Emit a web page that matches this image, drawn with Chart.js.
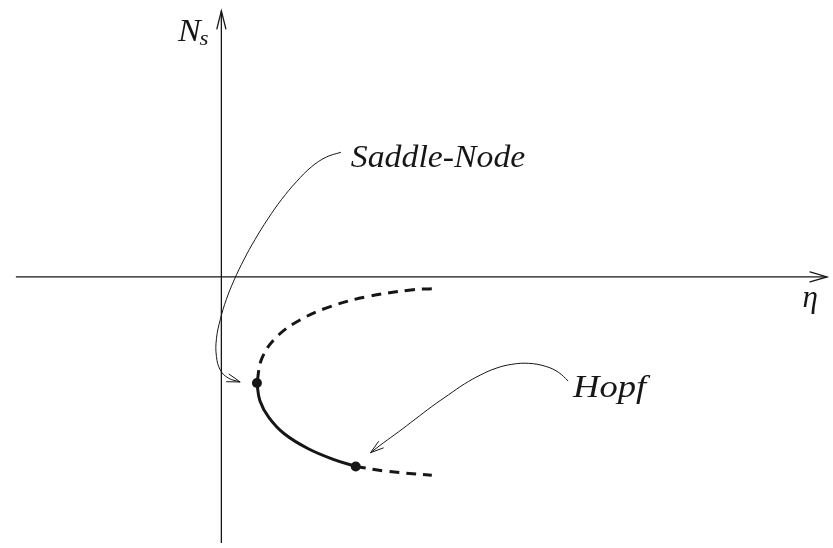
<!DOCTYPE html>
<html>
<head>
<meta charset="utf-8">
<script src="https://cdn.jsdelivr.net/npm/chart.js@4.4.1/dist/chart.umd.min.js"></script>
<style>
  html, body { margin: 0; padding: 0; background: #fff; }
  #wrap { width: 833px; height: 548px; }
</style>
</head>
<body>
<div id="wrap"><canvas id="chart" width="833" height="548"></canvas></div>
<script>
// eta / N_s coordinates (origin where the axes cross)
const upperBranchEta = [2.13, 1.94, 1.48, 1.11, 0.81, 0.56, 0.41, 0.36];
const upperBranchN = [-0.12, -0.13, -0.20, -0.30, -0.43, -0.61, -0.83, -1.08];

const stableBranchEta = [0.36, 0.39, 0.48, 0.64, 0.88, 1.14, 1.36];
const stableBranchN = [-1.08, -1.26, -1.43, -1.60, -1.75, -1.86, -1.93];

const lowerBranchEta = [1.36, 1.68, 2.13];
const lowerBranchN = [-1.93, -1.98, -2.02];

// saddle-node and hopf points
const bifEta = [0.36, 1.36];
const bifN = [-1.08, -1.93];

// axis extents
const etaAxis = [-2.08, 6.13];
const nAxis = [-2.75, 2.71];

// annotation leader curves
const saddleArrowEta = [1.21, 1.06, 0.91, 0.76, 0.61, 0.47, 0.34, 0.23, 0.13, 0.05, -0.01, -0.05, -0.05, -0.01, 0.07, 0.19];
const saddleArrowN = [1.27, 1.22, 1.12, 0.97, 0.79, 0.59, 0.38, 0.18, -0.03, -0.23, -0.43, -0.63, -0.81, -0.95, -1.03, -1.07];
const hopfArrowEta = [3.51, 3.41, 3.28, 3.11, 2.94, 2.78, 2.62, 2.46, 2.30, 2.13, 1.96, 1.79, 1.64, 1.51];
const hopfArrowN = [-1.06, -0.97, -0.91, -0.88, -0.89, -0.93, -1.00, -1.09, -1.20, -1.32, -1.45, -1.58, -1.69, -1.79];

// labels: [text, eta, N, stretch]
const labels = [
  ["Saddle-Node", 1.31, 1.12, 1.09],
  ["Hopf", 3.56, -1.22, 1.18],
];
const etaLabel = ["η", 5.96, -0.31];
const nLabel = ["N", -0.44, 2.40];

const serif = "'Liberation Serif', 'Times New Roman', serif";
const ink = "#161616";

function pts(xs, ys) {
  let out = [];
  for (let i = 0; i < xs.length; ++i) {
    out.push({ x: xs[i], y: ys[i] });
  }
  return out;
}

function arrowHead(ctx, x0, y0, x1, y1, len, half, width) {
  let a = Math.atan2(y1 - y0, x1 - x0);
  let c = Math.cos(a), s = Math.sin(a);
  ctx.save();
  ctx.strokeStyle = ink;
  ctx.lineWidth = width;
  ctx.lineCap = "round";
  ctx.beginPath();
  ctx.moveTo(x1 - len * c - half * s, y1 - len * s + half * c);
  ctx.lineTo(x1, y1);
  ctx.lineTo(x1 - len * c + half * s, y1 - len * s - half * c);
  ctx.stroke();
  ctx.restore();
}

const decorations = {
  id: "decorations",
  afterDatasetsDraw(chart) {
    const ctx = chart.ctx;
    const xs = chart.scales.x, ys = chart.scales.y;
    // open arrowheads at the end of flagged datasets
    chart.data.datasets.forEach(function (ds, i) {
      if (!ds.arrow) return;
      const meta = chart.getDatasetMeta(i).data;
      const p = meta[meta.length - 1], q = meta[meta.length - 2];
      let fromX = q.x, fromY = q.y;
      if (p.cp1x !== undefined && Math.hypot(p.x - p.cp1x, p.y - p.cp1y) > 1) {
        fromX = p.cp1x; fromY = p.cp1y;
      }
      arrowHead(ctx, fromX, fromY, p.x, p.y, ds.arrow[0], ds.arrow[1], ds.borderWidth);
    });

    ctx.save();
    // first text pass falls back to another face, so do an invisible one first
    ctx.globalAlpha = 0;
    ctx.font = "italic 31px " + serif;
    ctx.fillText("Saddle-Node Hopf N", 0, 40);
    ctx.font = "italic 21px " + serif;
    ctx.fillText("s", 0, 40);
    ctx.globalAlpha = 1;

    ctx.fillStyle = ink;
    ctx.textBaseline = "alphabetic";
    // eta
    ctx.font = "italic 31px " + serif;
    ctx.textAlign = "center";
    ctx.fillText(etaLabel[0], xs.getPixelForValue(etaLabel[1]), ys.getPixelForValue(etaLabel[2]));
    ctx.textAlign = "left";
    // N_s
    const nx = xs.getPixelForValue(nLabel[1]), ny = ys.getPixelForValue(nLabel[2]);
    ctx.save();
    ctx.translate(nx, ny);
    ctx.scale(1.1, 1);
    ctx.font = "italic 31px " + serif;
    ctx.fillText(nLabel[0], 0, 0);
    const w = ctx.measureText(nLabel[0]).width;
    ctx.font = "italic 21px " + serif;
    ctx.fillText("s", w - 1, 4);
    ctx.restore();
    // annotations
    labels.forEach(function (l) {
      ctx.save();
      ctx.translate(xs.getPixelForValue(l[1]), ys.getPixelForValue(l[2]));
      ctx.scale(l[3], 1);
      ctx.font = "italic 31px " + serif;
      ctx.fillText(l[0], 0, 0);
      ctx.restore();
    });
    ctx.restore();
  },
};

const chart = new Chart(document.getElementById("chart").getContext("2d"), {
  type: "scatter",
  data: {
    datasets: [
      {
        data: pts(etaAxis, [0, 0]),
        showLine: true, borderColor: ink, borderWidth: 1.3, pointRadius: 0,
        arrow: [17, 5],
      },
      {
        data: pts([0, 0], nAxis),
        showLine: true, borderColor: ink, borderWidth: 1.3, pointRadius: 0,
        arrow: [18, 4.5],
      },
      {
        data: pts(upperBranchEta, upperBranchN),
        showLine: true, borderColor: ink, borderWidth: 3, borderDash: [10, 7],
        pointRadius: 0, tension: 0.4,
      },
      {
        data: pts(stableBranchEta, stableBranchN),
        showLine: true, borderColor: ink, borderWidth: 3,
        pointRadius: 0, tension: 0.4,
      },
      {
        data: pts(lowerBranchEta, lowerBranchN),
        showLine: true, borderColor: ink, borderWidth: 3, borderDash: [10, 7],
        pointRadius: 0, tension: 0.4,
      },
      {
        data: pts(saddleArrowEta, saddleArrowN),
        showLine: true, borderColor: ink, borderWidth: 1, pointRadius: 0,
        tension: 0.4, arrow: [13, 4],
      },
      {
        data: pts(hopfArrowEta, hopfArrowN),
        showLine: true, borderColor: ink, borderWidth: 1, pointRadius: 0,
        tension: 0.4, arrow: [13, 4],
      },
      {
        data: pts(bifEta, bifN),
        showLine: false, pointRadius: 5, pointBackgroundColor: ink,
        pointBorderColor: ink, pointBorderWidth: 0,
      },
    ],
  },
  options: {
    responsive: false,
    animation: false,
    layout: { padding: 0 },
    plugins: { legend: { display: false }, tooltip: { enabled: false } },
    scales: {
      x: { type: "linear", display: false, min: -2.19, max: 6.14 },
      y: { type: "linear", display: false, min: -2.71, max: 2.77 },
    },
  },
  plugins: [decorations],
});
</script>
</body>
</html>
